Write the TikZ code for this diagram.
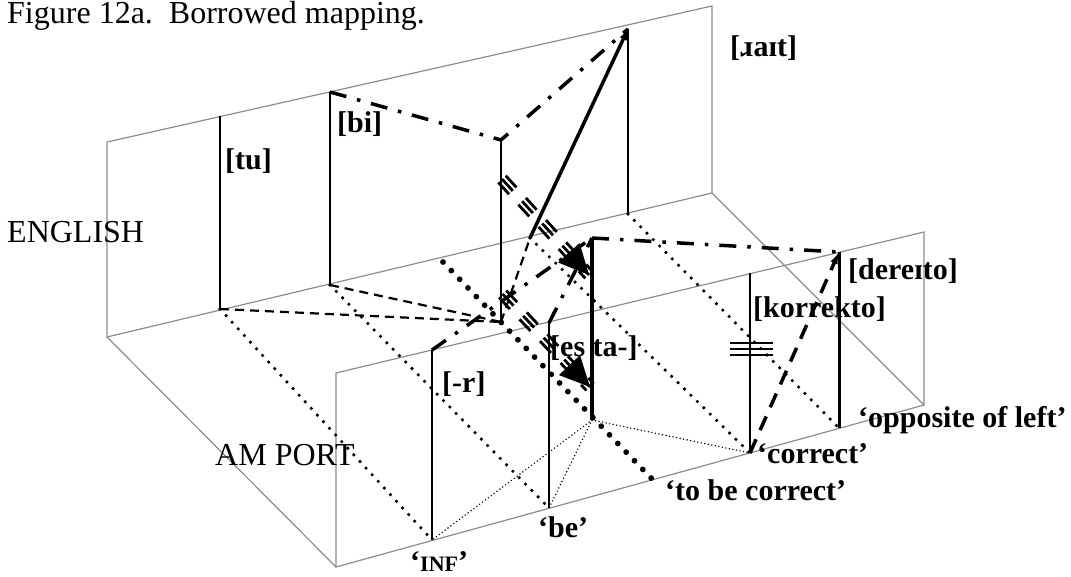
\documentclass[tikz,border=0pt]{standalone}
\usepackage{fontspec}
\setmainfont{Liberation Serif}
\usetikzlibrary{calc,arrows.meta}
\definecolor{planegray}{RGB}{140,140,140}
\tikzset{
  plane/.style={draw=planegray, line width=1.2bp},
  bar/.style={line width=2.7bp},
  dd/.style={line width=3.5bp, dash pattern=on 17bp off 11bp on 3.5bp off 11bp},
  dots/.style={line width=3.6bp, line cap=round, dash pattern=on 0bp off 9bp},
  bigdots/.style={line width=5.8bp, line cap=round, dash pattern=on 0bp off 12bp},
  finedots/.style={line width=1.6bp, line cap=round, dash pattern=on 0bp off 3.6bp},
  dsh/.style={line width=2.2bp, dash pattern=on 9bp off 6bp},
  bigdsh/.style={line width=3.5bp, dash pattern=on 15bp off 10bp},
  hashl/.style={line width=2.8bp, dash pattern=on 16bp off 14bp},
  lab/.style={font=\fontsize{30bp}{35bp}\selectfont\bfseries, inner sep=0pt, anchor=base west},
  big/.style={font=\fontsize{32bp}{38bp}\selectfont, inner sep=0pt, anchor=base west},
}
\begin{document}
\begin{tikzpicture}[x=1bp,y=-1bp]
\useasboundingbox (0,0) rectangle (1071,577);
% plane corners
\coordinate (uTL) at (107,142); \coordinate (uTR) at (712,6);
\coordinate (uBR) at (712,193); \coordinate (uBL) at (107,337);
\coordinate (lTL) at (336,373); \coordinate (lTR) at (924,232);
\coordinate (lBR) at (924,405); \coordinate (lBL) at (336,567);
% node points
\coordinate (tuT) at (220,116);  \coordinate (tuB) at (220,309);
\coordinate (biT) at (330,92);   \coordinate (biB) at (330,285);
\coordinate (raitT) at (628,29); \coordinate (raitB) at (628,214);
\coordinate (eF) at (530,238);
\coordinate (mT) at (501,140);   \coordinate (mB) at (501,322);
\coordinate (bT) at (592,238);   \coordinate (bB) at (592,420);
\coordinate (infT) at (432,350); \coordinate (infB) at (432,540);
\coordinate (beT) at (549,323);  \coordinate (beB) at (549,508);
\coordinate (corT) at (750,273); \coordinate (corB) at (750,453);
\coordinate (oppT) at (839,252); \coordinate (oppB) at (839,428);
\coordinate (dA) at (443,262);   \coordinate (dB) at (653,480);
\coordinate (h1a) at (502,179);  \coordinate (tip1) at (589,275);
\coordinate (h2a) at (502.6,294); \coordinate (tip2) at (590,387);

% planes
\draw[plane] (uTL) -- (uTR) -- (uBR) -- (uBL) -- cycle;
\draw[plane] (lTL) -- (lTR) -- (lBR) -- (lBL) -- cycle;
\draw[plane] (uBL) -- (lBL);
\draw[plane] (uBR) -- (lBR);

% texts
\node[big] (title) at (7,24) {Figure 12a.\ \ Borrowed mapping.};
\node[big] (eng) at (7,243) {ENGLISH};
\node[big] (amp) at (215,465) {AM PORT};
\node[lab] (ltu) at (225,170) {[tu]};
\node[lab] (lbi) at (337,133) {[bi]};
\node[lab] (lrait) at (730,57) {[ɹaɪt]};
\node[lab] (lder) at (848,280) {[dereɪto]};
\node[lab] (lkor) at (753,318) {[korrekto]};
\node[lab] (lr) at (442,392) {[-r]};
\node[lab] (lesta) at (550,356) {[es ta-]};
\node[lab] (lopp) at (858,427) {‘opposite of left’};
\node[lab] (lcor) at (757,463) {‘correct’};
\node[lab] (ltbc) at (665,500) {‘to be correct’};
\node[lab] (lbe) at (538,537) {‘be’};
\node[lab] (linf) at (410,571) {‘{\fontsize{22bp}{26bp}\selectfont INF}’};

% dotted correspondences
\draw[dots] (tuB) -- (infB);
\draw[dots] (biB) -- (beB);
\draw[dots] (eF) -- (corB);
\draw[dots] (raitB) -- (oppB);
\draw[bigdots] (dA) -- (dB);
\draw[finedots] (bB) -- (infB);
\draw[finedots] (bB) -- (beB);
\draw[finedots] (bB) -- (corB);

% dashed
\draw[dsh] (tuB) -- (mB);
\draw[dsh] (biB) -- (mB);
\draw[dsh] (mB) -- (eF);

% bars
\draw[bar] (tuT) -- (tuB);
\draw[bar] (biT) -- (biB);
\draw[bar] (raitT) -- (raitB);
\draw[bar] (mT) -- (mB);
\draw[bar] (infT) -- (infB);
\draw[bar] (beT) -- (beB);
\draw[bar] (corT) -- (corB);
\draw[bar, line width=3bp] (oppT) -- (oppB);
\draw[line width=4bp] (bT) -- (bB);

% triple bar on korrekto
\foreach \yy in {343,349,355} \draw[line width=2.5bp] (730,\yy) -- (773,\yy);

% dash-dot mappings
\draw[dd] (biT) -- (mT) -- (raitT);
\draw[dd] (infT) -- (bT);
\draw[dd] (beT) -- (bT);
\draw[dd] (bT) -- (oppT);

% arrows
\draw[line width=3.5bp, -{Latex[length=11bp,width=8bp]}] (eF) -- (raitT);
\draw[bigdsh, -{Latex[length=12bp,width=8bp]}] (corB) -- (oppT);

% hashed projection arrows
\foreach \o in {-5bp,0bp,5bp} {
  \draw[hashl] ($(h1a)!\o!90:(tip1)$) -- ($(tip1)!\o!-90:(h1a)$);
  \draw[hashl] ($(h2a)!\o!90:(tip2)$) -- ($(tip2)!\o!-90:(h2a)$);
}
\coordinate (bc1) at ($(tip1)!30bp!(h1a)$);
\coordinate (bc2) at ($(tip2)!30bp!(h2a)$);
\fill (tip1) -- ($(bc1)!14.5bp!90:(tip1)$) -- ($(bc1)!14.5bp!-90:(tip1)$) -- cycle;
\fill (tip2) -- ($(bc2)!14.5bp!90:(tip2)$) -- ($(bc2)!14.5bp!-90:(tip2)$) -- cycle;
\end{tikzpicture}
\end{document}
